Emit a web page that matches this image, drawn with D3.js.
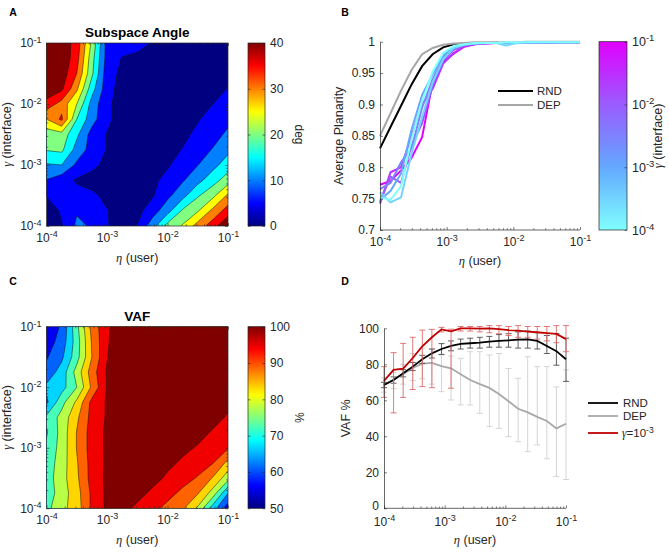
<!DOCTYPE html>
<html><head><meta charset="utf-8">
<script src="https://cdn.jsdelivr.net/npm/d3@7"></script>
<style>body{margin:0;background:#fff}svg{font-family:"Liberation Sans",Arial,Helvetica,sans-serif}</style>
</head><body>
<svg id="fig" width="669" height="552"></svg>
<script>
// ---------------- DATA ----------------
// contour grids: columns = log10(eta), rows = log10(gamma) from top (1e-1) to bottom (1e-4)
const etaLog = [-4,-3.75,-3.5,-3.25,-3,-2.75,-2.5,-2.25,-2,-1.75,-1.5,-1.25,-1];
const gammaLog = [-1,-1.25,-1.5,-1.75,-2,-2.25,-2.5,-2.75,-3,-3.25,-3.5,-3.75,-4];
const angleGrid = [
[45,43,38,24,8,7,6.5,4.8,3,2,2,2,2],
[46,44,37,22,8,4.8,4,3.5,3,2.5,2,2,2],
[46,43,35,21,7,4,3,2.5,2,2,2,2,2.5],
[44,41,31,17,7,3,2,2,2,2.5,3,4,5.1],
[38,33,25,13,6,3,2,2,2,3,4,5,7],
[30,36,20,12,6,3,2,2,2,3,4.7,6.6,8.8],
[22,23,16,8,4.8,3,2,2,2.5,4,6,8.3,10.9],
[20.3,21,13,8,4.8,2.5,2,2,3.5,5.2,7.8,10.3,13.8],
[14.5,15,9,6,4,2.5,2,2.5,4.5,7.1,9.9,13.4,17.5],
[9.8,7,4.5,3.5,3,3,3,4,6.4,9.5,13.4,17.9,22.6],
[5.2,6,6.5,5.8,4,3,3,4.5,8.8,13.3,19.4,23.7,30.9],
[3,5.5,9.5,7.5,5.2,3,3.5,7.6,13.1,20.7,24.5,31.3,37.4],
[3,4.7,11,9.5,5.3,3,5.1,12.8,21.8,25.5,32.1,37.7,45]
];
const vafGrid = [
[57,60.6,73.6,86.5,94.3,98,98.5,99,99,99,99,99,99],
[57.5,62,72.5,85.5,94.5,98,98.5,99,99,99,99,99,99],
[59.5,64,73,85,94.8,98,98.5,99,99,99,99,99,98.5],
[62,67,77,87.5,95.5,98,98.5,99,99,99,99,98.5,98],
[66,68,75,86,95.3,98,98.5,99,99,99,98.5,98,97],
[64,73.3,81,91.5,95.5,98,98.5,99,99,99,98.5,97.5,96],
[71,76.7,84,91.8,95.5,98,98.5,99,99,98.5,98,96.5,94.5],
[69.5,76.9,85.2,92.3,95.8,98,98.5,98.5,98,97.5,96.5,94.5,92.5],
[71,77,85.2,92.3,95.8,98,98,98,97.5,96,94.6,92.5,90.5],
[72,77.5,84.5,92,95.8,98,98,97.5,96,94.3,92.3,90.2,83.5],
[72.5,78,84,92,96,98,97.5,96.5,94.3,92,89.6,84.6,77],
[72,77.5,83,91,96,98,96.5,94.1,91.7,88.8,85.4,77.8,65],
[73.5,78.5,82.5,91,96,96.5,94,91.4,88.6,85.7,79.2,67.5,57]
];
const angleLevels = [5,10,15,20,25,30,35,40];
const vafLevels = [55,60,65,70,75,80,85,90,95];
const angleTicks = [0,10,20,30,40];
const vafTicks = [50,60,70,80,90,100];

// eta sweep used in panels B and D
const etaSweep = [1e-4,1.438e-4,2.069e-4,2.976e-4,4.281e-4,6.158e-4,8.859e-4,1.274e-3,1.833e-3,2.637e-3,
  3.793e-3,5.456e-3,7.848e-3,1.129e-2,1.624e-2,2.336e-2,3.360e-2,4.833e-2,6.952e-2,1e-1];
const decadeTicks = [1e-4,1e-3,1e-2,1e-1];

// Panel B
const planRND = [0.830,0.864,0.898,0.932,0.961,0.980,0.991,0.996,0.997,0.998,0.998,0.998,0.998,0.998,0.999,0.999,0.999,0.999,0.999,0.999];
const planDEP = [0.850,0.886,0.922,0.955,0.980,0.990,0.995,0.997,0.998,0.999,0.999,0.999,0.999,0.999,1.0,1.0,1.0,1.0,1.0,1.0];
const gammaLines = [1e-4,3.16e-4,1e-3,3.16e-3,1e-2,3.16e-2,1e-1];
const planByGamma = [
[0.752,0.748,0.770,0.845,0.905,0.952,0.982,0.993,0.996,0.998,0.998,0.998,0.999,0.999,0.999,0.999,0.999,0.999,0.999,0.999],
[0.760,0.744,0.752,0.822,0.880,0.935,0.972,0.990,0.995,0.997,0.998,0.998,0.994,0.998,0.999,0.999,0.999,0.999,0.999,0.999],
[0.748,0.762,0.790,0.860,0.915,0.948,0.978,0.991,0.995,0.997,0.998,0.998,0.998,0.998,0.999,0.999,0.999,0.999,0.999,0.999],
[0.765,0.775,0.808,0.830,0.895,0.940,0.975,0.989,0.996,0.997,0.998,0.998,0.998,0.998,0.998,0.999,0.999,0.999,0.999,0.999],
[0.745,0.785,0.775,0.835,0.870,0.930,0.970,0.987,0.994,0.997,0.998,0.998,0.998,0.998,0.998,0.998,0.999,0.999,0.999,0.999],
[0.742,0.792,0.800,0.850,0.900,0.925,0.965,0.982,0.993,0.996,0.997,0.998,0.998,0.998,0.998,0.998,0.998,0.999,0.999,0.999],
[0.772,0.778,0.795,0.815,0.848,0.935,0.968,0.981,0.992,0.996,0.997,0.998,0.998,0.998,0.998,0.998,0.998,0.999,0.999,0.999]
];
const planYTicks = [0.7,0.75,0.8,0.85,0.9,0.95,1];

// Panel D
const vafRND = [68.5,71.3,75,78.7,82.8,86.1,88.5,90.2,91.3,91.7,92,92.6,93,93.3,93.7,93.9,93,90.2,87.3,82.8];
const vafRNDlo = [67,69.5,73,76.5,80.5,83.5,85.5,87.5,88.5,89,89,89.5,89.5,89.5,89,89,88.5,86,79.5,70.5];
const vafRNDhi = [70,73,77,81,85,88.5,91.5,93,94,94.5,95,95.5,96.5,97,98,98.5,97.5,96,97,94.5];
const vafDEP = [68.5,71.5,74.5,78,80.4,80.8,79,77.8,74.5,71.3,69,66.9,63.5,59.5,55.3,53.3,50.8,48.5,44.4,47];
const vafDEPlo = [64.5,66.5,69,71,72,69,64.8,60.2,57.4,57.4,52.8,45.4,44.4,39.8,37,31.5,35.2,27.5,17.6,16];
const vafDEPhi = [72.5,75.5,80,86,89,88.5,85.2,84.6,83.3,87,87,85.2,86,77.7,72.2,84.2,78.7,78.7,67.4,76.9];
const vafG3 = [70.8,76.9,77.6,83.5,90,95,99.4,98.3,100,100,99.8,100,99.5,99,98.7,98.2,97.8,97.3,96.9,94];
const vafG3lo = [61.6,53,61.6,66,67.6,67,98,66.7,98.5,98.5,98,97.5,97,96,95,95,94,93,92,87];
const vafG3hi = [78.7,86.5,91.6,95,99,99.4,100.5,99.5,101,101,101,101.5,101.5,101,101.5,101,101,101,101.5,101.5];
const vafYTicks = [0,20,40,60,80,100];

// ---------------- HELPERS ----------------
const svg = d3.select("#fig");
const AX = "#262626";
const FONT = '"Liberation Sans",Arial,Helvetica,sans-serif';
const TICKFS = 12, EXPFS = "9px";
function jet(t){
  const c = v => Math.max(0, Math.min(1, v));
  return d3.rgb(255*c(1.5-Math.abs(4*t-3)), 255*c(1.5-Math.abs(4*t-2)), 255*c(1.5-Math.abs(4*t-1))).formatHex();
}
const gammaColor = d3.scaleLinear().domain([-4,-3,-2,-1]).range(["#80ffff","#62a8ff","#9a5cff","#e100ff"]);
const minorVals = [];
for (let e=-4;e<-1;e++) for (let k=2;k<=9;k++) minorVals.push(k*Math.pow(10,e));

function styleAxis(g, fs){
  g.selectAll("path.domain").attr("stroke",AX).attr("stroke-width",0.7);
  g.selectAll(".tick line").attr("stroke",AX).attr("stroke-width",0.6);
  g.selectAll("text").attr("fill",AX).attr("font-size",fs||TICKFS).attr("font-family",FONT);
}
function powLabels(g){
  g.selectAll(".tick text").each(function(d){
    const t = d3.select(this);
    t.text("10");
    t.append("tspan").attr("dy","-0.5em").attr("font-size",EXPFS).text(String(Math.round(Math.log10(d))));
  });
}
function logAxis(parent, axisFn, scale, transform, withLabels, pad){
  const gMaj = parent.append("g").attr("transform",transform)
    .call(axisFn(scale).tickValues(decadeTicks).tickSizeInner(-3).tickSizeOuter(0).tickPadding(pad||6)
      .tickFormat(withLabels ? (()=> "10") : (()=> "")));
  gMaj.select("path.domain").remove();
  if (withLabels) powLabels(gMaj);
  styleAxis(gMaj);
  const gMin = parent.append("g").attr("transform",transform)
    .call(axisFn(scale).tickValues(minorVals).tickSizeInner(-1.8).tickSizeOuter(0).tickFormat(()=>""));
  gMin.select("path.domain").remove();
  styleAxis(gMin);
}
function label(x,y,txt,opts){
  opts = opts||{};
  const t = svg.append("text").attr("x",x).attr("y",y).attr("text-anchor",opts.anchor||"middle")
    .attr("font-size",opts.size||12.5).attr("fill",opts.color||AX).attr("font-family",FONT)
    .attr("font-weight",opts.bold?"bold":"normal");
  if (txt) t.text(txt);
  if (opts.rotate) t.attr("transform",`rotate(${opts.rotate},${x},${y})`);
  return t;
}
function greekLabel(x,y,greek,rest,opts){
  const t = label(x,y,"",opts);
  t.append("tspan").attr("font-family",'"Liberation Serif","DejaVu Serif",serif').attr("font-style","italic").text(greek);
  t.append("tspan").text(rest);
  return t;
}

// ---------------- CONTOUR PANELS ----------------
function contourPanel(cfg){
  const {grid, levels, x0,x1,y0,y1, id} = cfg;
  const xs = d3.scaleLog().domain([1e-4,1e-1]).range([x0,x1]);
  const ys = d3.scaleLog().domain([1e-4,1e-1]).range([y1,y0]);
  const nx = etaLog.length, ny = gammaLog.length;
  const dE = etaLog[1]-etaLog[0], dG = gammaLog[1]-gammaLog[0];
  const proj = d3.geoTransform({point(x,y){
    this.stream.point(xs(Math.pow(10, etaLog[0]+(x-0.5)*dE)), ys(Math.pow(10, gammaLog[0]+(y-0.5)*dG)));
  }});
  const path = d3.geoPath(proj);
  svg.append("clipPath").attr("id",id).append("rect").attr("x",x0).attr("y",y0).attr("width",x1-x0).attr("height",y1-y0);
  const g = svg.append("g").attr("clip-path",`url(#${id})`);
  g.append("rect").attr("x",x0).attr("y",y0).attr("width",x1-x0).attr("height",y1-y0).attr("fill",jet(0));
  const contours = d3.contours().size([nx,ny]).thresholds(levels)(grid.flat());
  contours.forEach((c,k)=>{
    g.append("path").attr("d",path(c)).attr("fill",jet((k+1)/levels.length))
      .attr("stroke","#111").attr("stroke-width",0.5).attr("stroke-linejoin","round");
  });
  svg.append("rect").attr("x",x0).attr("y",y0).attr("width",x1-x0).attr("height",y1-y0)
    .attr("fill","none").attr("stroke",AX).attr("stroke-width",0.7);
  logAxis(svg, d3.axisBottom, xs, `translate(0,${y1})`, true, 7);
  logAxis(svg, d3.axisTop, xs, `translate(0,${y0})`, false);
  logAxis(svg, d3.axisLeft, ys, `translate(${x0},0)`, true, 5);
  logAxis(svg, d3.axisRight, ys, `translate(${x1},0)`, false);
  // colorbar
  const cb = cfg.cb;
  const gid = id+"grad";
  const grad = svg.append("defs").append("linearGradient").attr("id",gid).attr("x1",0).attr("y1",1).attr("x2",0).attr("y2",0);
  d3.range(0,1.0001,0.02).forEach(t=> grad.append("stop").attr("offset",t).attr("stop-color",jet(t)));
  svg.append("rect").attr("x",cb.x0).attr("y",y0).attr("width",cb.x1-cb.x0).attr("height",y1-y0).attr("fill",`url(#${gid})`)
    .attr("stroke",AX).attr("stroke-width",0.7);
  const cs = d3.scaleLinear().domain(cb.domain).range([y1,y0]);
  const gc = svg.append("g").attr("transform",`translate(${cb.x1},0)`)
    .call(d3.axisRight(cs).tickValues(cb.ticks).tickSizeInner(-2.5).tickSizeOuter(0).tickPadding(5));
  gc.select("path.domain").remove();
  styleAxis(gc, 12);
  const gc2 = svg.append("g").attr("transform",`translate(${cb.x0},0)`)
    .call(d3.axisLeft(cs).tickValues(cb.ticks).tickSizeInner(-2.5).tickSizeOuter(0).tickFormat(()=>""));
  gc2.select("path.domain").remove();
  styleAxis(gc2);
  // labels
  label((x0+x1)/2, y0-6, cfg.title, {bold:true, size:13.5, color:"#000"});
  greekLabel(11,(y0+y1)/2,"γ"," (interface)",{rotate:-90});
  greekLabel((x0+x1)/2, y1+36,"η"," (user)",{});
  label(295,(y0+y1)/2,cfg.unit,{rotate:90, size:12});
}

contourPanel({grid:angleGrid, levels:angleLevels, x0:46.5,x1:228,y0:43,y1:226, id:"clipA",
  title:"Subspace Angle", unit:"deg", cb:{x0:248,x1:265,domain:[0,40],ticks:angleTicks}});
contourPanel({grid:vafGrid, levels:vafLevels, x0:46.5,x1:228,y0:326.7,y1:508.3, id:"clipC",
  title:"VAF", unit:"%", cb:{x0:248,x1:265,domain:[50,100],ticks:vafTicks}});

// ---------------- PANEL B ----------------
(function(){
  const x0=380,x1=580,y0=41.7,y1=230;
  const xs = d3.scaleLog().domain([1e-4,1e-1]).range([x0,x1]);
  const ys = d3.scaleLinear().domain([0.7,1]).range([y1,y0]);
  const line = d3.line().x((d,i)=>xs(etaSweep[i])).y(d=>ys(d));
  const g = svg.append("g");
  g.append("path").attr("d",line(planRND)).attr("fill","none").attr("stroke","#000").attr("stroke-width",2);
  g.append("path").attr("d",line(planDEP)).attr("fill","none").attr("stroke","#a6a6a6").attr("stroke-width",2);
  planByGamma.slice().reverse().forEach((vals,k)=>{
    const gm = gammaLines[gammaLines.length-1-k];
    g.append("path").attr("d",line(vals)).attr("fill","none").attr("stroke",gammaColor(Math.log10(gm)))
      .attr("stroke-width",2).attr("stroke-linejoin","round");
  });
  // axes
  const gy = svg.append("g").attr("transform",`translate(${x0},0)`)
    .call(d3.axisLeft(ys).tickValues(planYTicks).tickSizeInner(-3).tickSizeOuter(0).tickPadding(5).tickFormat(d3.format("")));
  styleAxis(gy);
  svg.append("line").attr("x1",x0).attr("x2",x1).attr("y1",y1).attr("y2",y1).attr("stroke",AX).attr("stroke-width",0.7);
  logAxis(svg, d3.axisBottom, xs, `translate(0,${y1})`, true, 7);
  // legend
  const lg = [["RND","#000",91],["DEP","#a6a6a6",105]];
  lg.forEach(([t,c,y])=>{
    svg.append("line").attr("x1",498).attr("x2",533).attr("y1",y).attr("y2",y).attr("stroke",c).attr("stroke-width",2);
    label(537,y+4,t,{anchor:"start",size:11.5});
  });
  // colorbar
  const cbx0=599, cbx1=627;
  const grad = svg.append("defs").append("linearGradient").attr("id","gradB").attr("x1",0).attr("y1",1).attr("x2",0).attr("y2",0);
  d3.range(0,1.0001,0.05).forEach(t=> grad.append("stop").attr("offset",t).attr("stop-color",gammaColor(-4+3*t)));
  svg.append("rect").attr("x",cbx0).attr("y",y0).attr("width",cbx1-cbx0).attr("height",y1-y0).attr("fill","url(#gradB)")
    .attr("stroke",AX).attr("stroke-width",0.7);
  const cs = d3.scaleLog().domain([1e-4,1e-1]).range([y1,y0]);
  const gc = svg.append("g").attr("transform",`translate(${cbx1},0)`)
    .call(d3.axisRight(cs).tickValues(decadeTicks).tickSizeInner(-2.5).tickSizeOuter(0).tickPadding(5).tickFormat(()=>"10"));
  gc.select("path.domain").remove();
  powLabels(gc);
  styleAxis(gc, 12.5);
  gc.selectAll(".tick text tspan").attr("font-size","9.5px");
  greekLabel(662,(y0+y1)/2,"γ"," (interface)",{rotate:-90});
  label(343,(y0+y1)/2,"Average Planarity",{rotate:-90});
  greekLabel((x0+x1)/2, y1+35,"η"," (user)",{});
})();

// ---------------- PANEL D ----------------
(function(){
  const x0=384,x1=566,y0=328.3,y1=508.3;
  const xs = d3.scaleLog().domain([1e-4,1e-1]).range([x0,x1]);
  const ys = d3.scaleLinear().domain([0,100]).range([y1,y0]);
  const line = d3.line().x((d,i)=>xs(etaSweep[i])).y(d=>ys(d));
  const g = svg.append("g");
  function bars(lo,hi,color,w){
    etaSweep.forEach((e,i)=>{
      const x = xs(e);
      g.append("line").attr("x1",x).attr("x2",x).attr("y1",ys(lo[i])).attr("y2",ys(hi[i])).attr("stroke",color).attr("stroke-width",w);
      [lo[i],hi[i]].forEach(v=> g.append("line").attr("x1",x-3).attr("x2",x+3).attr("y1",ys(v)).attr("y2",ys(v)).attr("stroke",color).attr("stroke-width",w));
    });
  }
  bars(vafDEPlo,vafDEPhi,"#d4d4d4",1);
  g.append("path").attr("d",line(vafDEP)).attr("fill","none").attr("stroke","#a8a8a8").attr("stroke-width",1.8);
  bars(vafRNDlo,vafRNDhi,"#4d4d4d",0.9);
  g.append("path").attr("d",line(vafRND)).attr("fill","none").attr("stroke","#000").attr("stroke-width",1.8);
  bars(vafG3lo,vafG3hi,"#e06a6a",0.9);
  g.append("path").attr("d",line(vafG3)).attr("fill","none").attr("stroke","#c00000").attr("stroke-width",1.8);
  const gy = svg.append("g").attr("transform",`translate(${x0},0)`)
    .call(d3.axisLeft(ys).tickValues(vafYTicks).tickSizeInner(-3).tickSizeOuter(0).tickPadding(5));
  styleAxis(gy);
  gy.selectAll(".tick text").filter(d=>d===0).attr("dy","0.1em");
  svg.append("line").attr("x1",x0).attr("x2",x1).attr("y1",y1).attr("y2",y1).attr("stroke",AX).attr("stroke-width",0.7);
  logAxis(svg, d3.axisBottom, xs, `translate(0,${y1})`, true, 9);
  label(350,(y0+y1)/2,"VAF %",{rotate:-90});
  greekLabel((x0+x1)/2, y1+36,"η"," (user)",{});
  // legend
  const lg = [["RND","#000",403],["DEP","#a8a8a8",416],["γ","#c00000",433]];
  lg.forEach(([t,c,y])=>{
    svg.append("line").attr("x1",588).attr("x2",618).attr("y1",y).attr("y2",y).attr("stroke",c).attr("stroke-width",1.8);
    if (t==="γ"){
      const tx = label(622,y+4,"",{anchor:"start",size:11.5});
      tx.append("tspan").attr("font-family",'"Liberation Serif",serif').attr("font-style","italic").text("γ");
      tx.append("tspan").text("=10");
      tx.append("tspan").attr("dy","-0.5em").attr("font-size","8.5px").text("-3");
    } else label(623,y+4,t,{anchor:"start",size:11.5});
  });
})();

// panel letters
[["A",13,16],["B",345,16],["C",13,285],["D",345,285]].forEach(([t,x,y])=>label(x,y,t,{anchor:"middle",bold:true,size:10.5,color:"#000"}));
</script>
</body></html>
